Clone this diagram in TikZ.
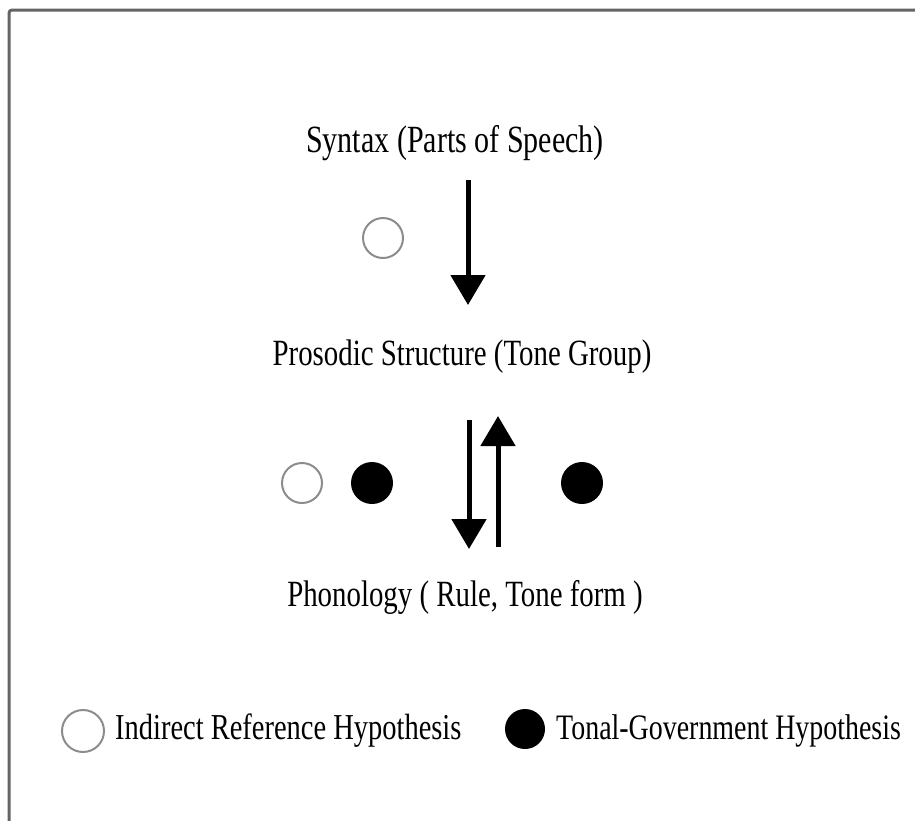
\documentclass[tikz,border=0pt]{standalone}
\usepackage{fontspec}
\setmainfont{Liberation Serif}[FakeStretch=0.78]
\usepackage{tikz}
\usetikzlibrary{arrows.meta, positioning}
\definecolor{ringgray}{RGB}{140, 140, 140}
\definecolor{framegray}{RGB}{100, 100, 100}

\begin{document}
\begin{tikzpicture}[
        x=1pt, y=-1pt,
        lbl/.style={font=\fontsize{38.5}{44}\selectfont, inner sep=0pt},
        lblsm/.style={font=\fontsize{37}{42}\selectfont, inner sep=0pt},
        leglbl/.style={font=\fontsize{36.5}{42}\selectfont, inner sep=0pt, anchor=west},
        irh/.style={circle, draw=ringgray, line width=2pt, minimum size=40pt, inner sep=0pt},
        tgh/.style={circle, fill=black, minimum size=42pt, inner sep=0pt},
        arr/.style={-{Triangle[length=30pt, width=34pt]}, line width=5pt},
    ]
        \useasboundingbox (0,0) rectangle (915,820);
        % Outer frame (runs off the right and bottom edge)
        \draw[framegray, line width=3pt, rounded corners=3pt] (9,10) rectangle (940,850);

        % The three levels
        \node[lbl]   (syntax)  at (455,143) {Syntax (Parts of Speech)};
        \node[lblsm] (prosody) at (462,357) {Prosodic Structure (Tone Group)};
        \node[lblsm] (phono)   at (465,597) {Phonology ( Rule, Tone form )};

        % Hypothesis markers
        \node[irh] (irhTop) at (383,238) {};
        \node[irh] (irhMid) at (302,483) {};
        \node[tgh] (tghL)   at (372,483) {};
        \node[tgh] (tghR)   at (582,483) {};

        % Arrow ends
        \coordinate (synOut)  at (468,180);
        \coordinate (proIn)   at (468,305);
        \coordinate (proOut)  at (469,420);
        \coordinate (phoIn)   at (469,549);
        \coordinate (phoOut)  at (498,547);
        \coordinate (proBack) at (498,416);

        % Syntax -> prosody, prosody <-> phonology
        \draw[arr] (synOut) -- (proIn);
        \draw[arr] (proOut) -- (phoIn);
        \draw[arr] (phoOut) -- (proBack);

        % Legend
        \node[irh, minimum size=42pt] (legIrh) at (83,731) {};
        \node[leglbl] (legIrhTxt) at (115,731) {Indirect Reference Hypothesis};
        \node[tgh, minimum size=40pt] (legTgh) at (525,729) {};
        \node[leglbl, font=\fontsize{35.8}{42}\selectfont] (legTghTxt) at (556,731) {Tonal-Government Hypothesis};
    \end{tikzpicture}
\end{document}
